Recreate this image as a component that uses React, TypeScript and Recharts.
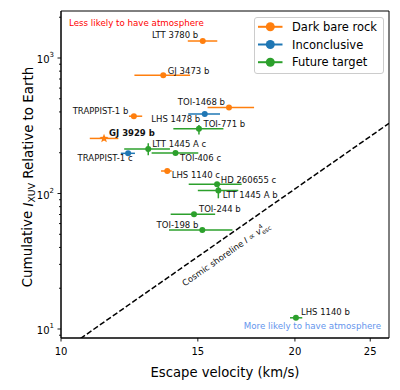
import React from 'react';
import {
  ScatterChart,
  Scatter,
  XAxis,
  YAxis,
  ErrorBar,
  ReferenceLine,
  ReferenceDot,
  ReferenceArea,
  Legend,
} from 'recharts';

// ---------------- data ----------------
const planetNames = [
  'LTT 3780 b', 'GJ 3473 b', 'TOI-1468 b', 'TRAPPIST-1 b', 'LHS 1478 b', 'TOI-771 b',
  'GJ 3929 b', 'LTT 1445 A c', 'TRAPPIST-1 c', 'TOI-406 c', 'LHS 1140 c', 'HD 260655 c',
  'LTT 1445 A b', 'TOI-244 b', 'TOI-198 b', 'LHS 1140 b',
];
const planetStatus = [
  'Dark bare rock', 'Dark bare rock', 'Dark bare rock', 'Dark bare rock', 'Inconclusive', 'Future target',
  'Dark bare rock', 'Future target', 'Inconclusive', 'Future target', 'Dark bare rock', 'Future target',
  'Future target', 'Future target', 'Future target', 'Future target',
];
const escapeVelocity = [15.22, 13.54, 16.45, 12.41, 15.31, 15.05, 11.36, 12.95, 12.2, 14.04, 13.7, 15.88, 15.94, 14.83, 15.2, 20.06];
const escapeVelocityLow = [14.56, 12.43, 15.44, 12.23, 14.58, 13.95, 10.89, 12.06, 11.94, 13.08, 13.45, 14.6, 15.0, 13.84, 13.77, 19.71];
const escapeVelocityHigh = [15.89, 14.66, 17.72, 12.72, 16.02, 16.18, 11.85, 13.81, 12.45, 15.02, 13.88, 17.08, 16.91, 15.79, 16.62, 20.44];
const cumulativeXuv = [1335, 745, 431, 372, 386, 301, 255, 213, 198, 199, 146.6, 117, 105.2, 70.2, 53.8, 12.1];
const cumulativeXuvLow = [1290, 745, 431, 372, 386, 273, 250, 192, 198, 192, 146.6, 113, 92.2, 68, 52, 11.8];
const cumulativeXuvHigh = [1380, 745, 431, 372, 386, 320, 261, 235, 198, 206, 146.6, 121, 112, 72.5, 55.6, 12.4];

const categories = ['Dark bare rock', 'Inconclusive', 'Future target'];
const starPlanets = ['GJ 3929 b'];
const boldLabels = ['GJ 3929 b'];

const xTicks = [10, 15, 20, 25];
const yMajorTicks = [10, 100, 1000];
const yMinorTicks = [9, 20, 30, 40, 50, 60, 70, 80, 90, 200, 300, 400, 500, 600, 700, 800, 900, 2000];
const xDomain = [10, 26.43];
const yDomain = [8.584, 2223];

// cosmic shoreline (I ∝ v^4) endpoints
const shorelineV = [10, 26.43];
const shorelineI = [6.756, 329.6];
const shorelineLabelV = 15.92;

// ---------------- styles ----------------
const FONT = 'DejaVu Sans, Verdana, sans-serif';
const categoryColors: Record<string, string> = {
  'Dark bare rock': '#ff7f0e',
  Inconclusive: '#1f77b4',
  'Future target': '#2ca02c',
};
const labelPlacement: Record<string, [number, number, 'start' | 'end']> = {
  'LTT 3780 b': [-4.5, -6, 'end'],
  'GJ 3473 b': [4.5, -4.5, 'start'],
  'TOI-1468 b': [-4, -5.5, 'end'],
  'TRAPPIST-1 b': [-5.5, -5.5, 'end'],
  'LHS 1478 b': [-4.5, 4.5, 'end'],
  'TOI-771 b': [4.5, -4.5, 'start'],
  'GJ 3929 b': [5, -5, 'start'],
  'LTT 1445 A c': [4, -5, 'start'],
  'TRAPPIST-1 c': [4.5, 4.5, 'end'],
  'TOI-406 c': [4.5, 4.5, 'start'],
  'LHS 1140 c': [4.5, 4, 'start'],
  'HD 260655 c': [3.7, -4.2, 'start'],
  'LTT 1445 A b': [4.5, 4.5, 'start'],
  'TOI-244 b': [5, -5, 'start'],
  'TOI-198 b': [-4, -5, 'end'],
  'LHS 1140 b': [5, -5.5, 'start'],
};

const rows = planetNames.map((name, k) => ({
  name,
  status: planetStatus[k],
  v: escapeVelocity[k],
  i: cumulativeXuv[k],
  ex: [escapeVelocity[k] - escapeVelocityLow[k], escapeVelocityHigh[k] - escapeVelocity[k]],
  ey: [cumulativeXuv[k] - cumulativeXuvLow[k], cumulativeXuvHigh[k] - cumulativeXuv[k]],
}));

function starPath(cx: number, cy: number, R: number, r: number) {
  let d = '';
  for (let k = 0; k < 10; k++) {
    const ang = -Math.PI / 2 + (k * Math.PI) / 5;
    const rad = k % 2 === 0 ? R : r;
    d += (k === 0 ? 'M' : 'L') + (cx + rad * Math.cos(ang)).toFixed(2) + ',' + (cy + rad * Math.sin(ang)).toFixed(2);
  }
  return d + 'Z';
}

const makeShape = (color: string) => (props: any) => {
  const { cx, cy, payload } = props;
  if (cx == null || cy == null) return <g />;
  const name = payload?.name ?? '';
  const lp = labelPlacement[name] || [4, -4, 'start'];
  const isStar = starPlanets.includes(name);
  return (
    <g>
      {isStar ? (
        <path d={starPath(cx, cy, 4.8, 2.0)} fill={color} />
      ) : (
        <circle cx={cx} cy={cy} r={3} fill={color} />
      )}
      <text
        x={cx + lp[0]}
        y={cy + lp[1]}
        textAnchor={lp[2]}
        dominantBaseline="central"
        fontFamily={FONT}
        fontSize={8.5}
        fontWeight={boldLabels.includes(name) ? 'bold' : 'normal'}
        fill="#111"
      >
        {name}
      </text>
    </g>
  );
};

const YTick = (props: any) => {
  const { x, y, payload } = props;
  const val = payload.value;
  const exp = Math.log10(val);
  const major = Math.abs(exp - Math.round(exp)) < 1e-6;
  return (
    <g>
      <line x1={x - (major ? 3.5 : 2)} x2={x} y1={y} y2={y} stroke="#000" strokeWidth={0.9} />
      {major && (
        <text x={x - 7} y={y + 1.5} textAnchor="end" dominantBaseline="central" fontFamily={FONT} fontSize={10} fill="#000">
          10
          <tspan dy={-4.5} fontSize={7}>{Math.round(exp)}</tspan>
        </text>
      )}
    </g>
  );
};

const XTick = (props: any) => {
  const { x, y, payload } = props;
  return (
    <g>
      <line x1={x} x2={x} y1={y} y2={y + 3.5} stroke="#000" strokeWidth={0.9} />
      <text x={x} y={y + 13.5} textAnchor="middle" dominantBaseline="central" fontFamily={FONT} fontSize={10} fill="#000">
        {payload.value}
      </text>
    </g>
  );
};

const renderLegend = () => (
  <svg width={131} height={58} style={{ display: 'block' }}>
    <rect x={0.5} y={0.5} width={129} height={56} rx={2.5} fill="rgba(255,255,255,0.8)" stroke="#cccccc" strokeWidth={1} />
    {categories.map((c, k) => {
      const cy = 9.8 + k * 17.7;
      return (
        <g key={c}>
          <line x1={4} x2={28.5} y1={cy} y2={cy} stroke={categoryColors[c]} strokeWidth={2} />
          <circle cx={16.3} cy={cy} r={4.5} fill={categoryColors[c]} />
          <text x={38} y={cy} dominantBaseline="central" fontFamily={FONT} fontSize={11.5} fill="#000">
            {c}
          </text>
        </g>
      );
    })}
  </svg>
);

const shoreSlope =
  (Math.log10(shorelineI[1]) - Math.log10(shorelineI[0])) / (Math.log10(shorelineV[1]) - Math.log10(shorelineV[0]));
const shorelineLabelI = Math.pow(
  10,
  Math.log10(shorelineI[0]) + shoreSlope * (Math.log10(shorelineLabelV) - Math.log10(shorelineV[0]))
);

const ShoreLabel = (props: any) => {
  const { cx, cy } = props;
  if (cx == null || cy == null) return <g />;
  return (
    <g transform={`translate(${cx},${cy}) rotate(-34.9)`}>
      <text x={0} y={14} textAnchor="middle" dominantBaseline="central" fontFamily={FONT} fontSize={8.5} fill="#111">
        Cosmic shoreline <tspan fontStyle="italic">I</tspan> ∝ <tspan fontStyle="italic">v</tspan>
        <tspan fontSize={6} dy={2.5}>esc</tspan>
        <tspan fontSize={6} dx={-10} dy={-6.5}>4</tspan>
      </text>
    </g>
  );
};

export default function App() {
  return (
    <div style={{ position: 'relative', width: 384, height: 374 }}>
      <ScatterChart width={384} height={374} margin={{ top: 3, right: 3, bottom: 0, left: 0 }}>
        <ReferenceArea
          x1={xDomain[0]}
          x2={xDomain[1]}
          y1={yDomain[0]}
          y2={yDomain[1]}
          fill="none"
          fillOpacity={0}
          stroke="#000"
          strokeWidth={1}
          ifOverflow="visible"
        />
        <XAxis
          type="number"
          dataKey="v"
          scale="log"
          domain={xDomain}
          allowDataOverflow
          ticks={xTicks}
          interval={0}
          height={44}
          tickSize={0}
          tickMargin={0}
          tickLine={false}
          axisLine={{ stroke: '#000', strokeWidth: 1 }}
          tick={<XTick />}
        />
        <YAxis
          type="number"
          dataKey="i"
          scale="log"
          domain={yDomain}
          allowDataOverflow
          ticks={[...yMinorTicks, ...yMajorTicks].sort((a, b) => a - b)}
          interval={0}
          width={53}
          tickSize={0}
          tickMargin={0}
          tickLine={false}
          axisLine={{ stroke: '#000', strokeWidth: 1 }}
          tick={<YTick />}
        />
        <ReferenceLine
          segment={[
            { x: shorelineV[0], y: shorelineI[0] },
            { x: shorelineV[1], y: shorelineI[1] },
          ]}
          stroke="#000"
          strokeWidth={1.5}
          strokeDasharray="5.5 2.4"
          ifOverflow="hidden"
        />
        <ReferenceDot x={shorelineLabelV} y={shorelineLabelI} r={0} ifOverflow="visible" shape={<ShoreLabel />} />
        {categories.map((c) => (
          <Scatter
            key={c}
            name={c}
            data={rows.filter((r) => r.status === c)}
            fill={categoryColors[c]}
            isAnimationActive={false}
            shape={makeShape(categoryColors[c])}
          >
            <ErrorBar dataKey="ex" direction="x" width={0} stroke={categoryColors[c]} strokeWidth={1.5} isAnimationActive={false} />
            <ErrorBar dataKey="ey" direction="y" width={0} stroke={categoryColors[c]} strokeWidth={1.5} isAnimationActive={false} />
          </Scatter>
        ))}
        <Legend
          layout="vertical"
          align="center"
          verticalAlign="middle"
          content={renderLegend}
          wrapperStyle={{ left: 246, top: 9, width: 131, height: 58 }}
        />
      </ScatterChart>
      <svg
        width={384}
        height={374}
        style={{ position: 'absolute', left: 0, top: 0, pointerEvents: 'none' }}
      >
        <text x={61} y={15} dominantBaseline="central" fontFamily={FONT} fontSize={8.7} fill="#ff0000">
          Less likely to have atmosphere
        </text>
        <text x={373} y={318} textAnchor="end" dominantBaseline="central" fontFamily={FONT} fontSize={8.7} fill="#6495ED">
          More likely to have atmosphere
        </text>
        <text x={217} y={364} textAnchor="middle" dominantBaseline="central" fontFamily={FONT} fontSize={13.2} fill="#000">
          Escape velocity (km/s)
        </text>
        <text
          transform="translate(19.5,169) rotate(-90)"
          x={0}
          y={0}
          textAnchor="middle"
          dominantBaseline="central"
          fontFamily={FONT}
          fontSize={13.4}
          fill="#000"
        >
          Cumulative <tspan fontStyle="italic">I</tspan>
          <tspan fontSize={9.4} dy={3}>XUV</tspan>
          <tspan dy={-3}> Relative to Earth</tspan>
        </text>
      </svg>
    </div>
  );
}
